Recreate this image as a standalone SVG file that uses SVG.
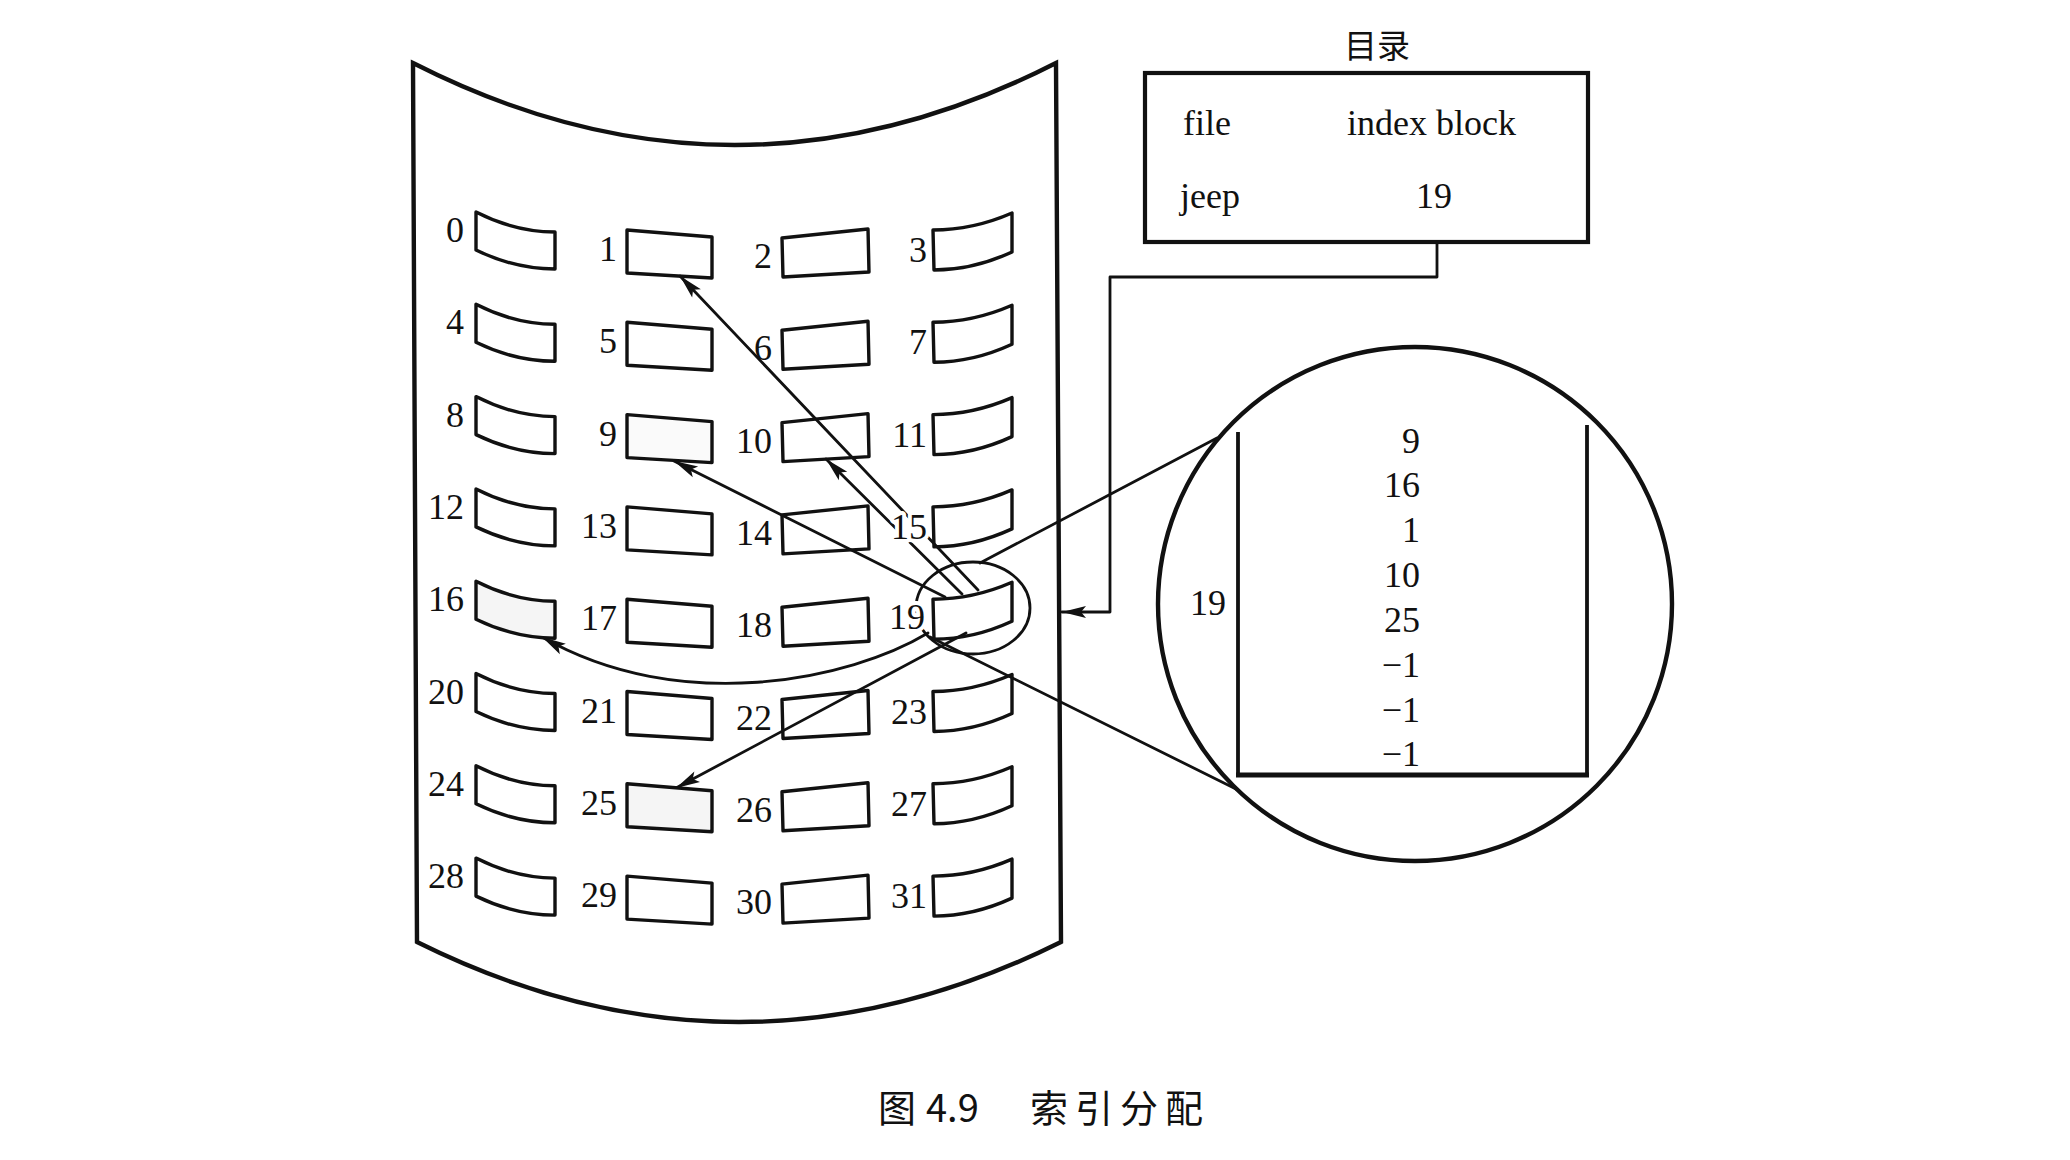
<svg xmlns="http://www.w3.org/2000/svg" xmlns:xlink="http://www.w3.org/1999/xlink" width="2070" height="1160" viewBox="0 0 2070 1160">
<style>
.ln{fill:none;stroke:#111;stroke-width:2.8;stroke-linecap:round;stroke-linejoin:round}
.blk{fill:none;stroke:#111;stroke-width:3.4;stroke-linejoin:round}
.sh{fill:#f5f5f5}
.sh2{fill:#fafafa}
.lbl{font-family:"Liberation Serif","Times New Roman",serif;font-size:36px;fill:#111}
.num{text-anchor:end}
.halo{stroke:#fff;stroke-width:8;paint-order:stroke;stroke-linejoin:round}
.cjk{font-family:"Noto Sans CJK SC","Noto Sans",sans-serif;fill:#111}
</style>
<defs>
<marker id="ah" viewBox="-26 -10 30 20" refX="0" refY="0" markerWidth="30" markerHeight="20" orient="auto" markerUnits="userSpaceOnUse">
<path d="M0,0 L-24,-6 L-19,0 L-24,6 Z" fill="#111"/>
</marker>
<path id="c0" d="M476,212 Q515,232 555,232 L555,269 Q515,269 476,250 Z"/>
<path id="c1" d="M627,230 L712,237 L712,278 L627,273 Z"/>
<path id="c2" d="M782,238 L868,229 L869,272 L783,277 Z"/>
<path id="c3" d="M933,230 Q973,230 1012,213 L1012,252 Q973,270 934,270 Z"/>
</defs>
<rect width="2070" height="1160" fill="#fff"/>

<g id="disk">
<path d="M413,63 Q735,227 1056,63 L1061,942 Q739,1102 417,942 Z" fill="none" stroke="#111" stroke-width="4.4" stroke-linejoin="miter"/>
</g>

<g id="index-block-view">
<ellipse cx="973" cy="608" rx="57" ry="46" class="ln"/>
<line x1="980" y1="563" x2="1217" y2="438" class="ln"/>
<line x1="930" y1="637" x2="1238" y2="790" class="ln"/>
<circle cx="1415" cy="604" r="257" fill="none" stroke="#111" stroke-width="4.4"/>
<path d="M1238,432 L1238,775 M1587,425 L1587,775" fill="none" stroke="#111" stroke-width="3.8"/>
<line x1="1236" y1="775" x2="1589" y2="775" stroke="#111" stroke-width="5.2"/>
<text class="lbl" x="1208" y="615" text-anchor="middle">19</text>
<g class="lbl num">
<text x="1420" y="453">9</text>
<text x="1420" y="497">16</text>
<text x="1420" y="542">1</text>
<text x="1420" y="587">10</text>
<text x="1420" y="632">25</text>
<text x="1420" y="677">−1</text>
<text x="1420" y="722">−1</text>
<text x="1420" y="766">−1</text>
</g>
</g>

<g id="connectors">
<line x1="978" y1="590" x2="680" y2="276" class="ln" marker-end="url(#ah)"/>
<line x1="962" y1="594" x2="826" y2="459" class="ln" marker-end="url(#ah)"/>
<line x1="945" y1="597" x2="674" y2="461" class="ln" marker-end="url(#ah)"/>
<path d="M928,633 C850,680 680,716 542,637" class="ln" marker-end="url(#ah)"/>
<line x1="966" y1="633" x2="676" y2="788" class="ln" marker-end="url(#ah)"/>
<polyline points="1437,242 1437,277 1110,277 1110,612 1062,612" class="ln" marker-end="url(#ah)"/>
</g>

<g id="blocks">
<g id="b0"><use xlink:href="#c0" class="blk"/><text class="lbl num" x="464" y="242">0</text></g>
<g id="b1"><use xlink:href="#c1" class="blk"/><text class="lbl num" x="617" y="261">1</text></g>
<g id="b2"><use xlink:href="#c2" class="blk"/><text class="lbl num" x="772" y="268">2</text></g>
<g id="b3"><use xlink:href="#c3" class="blk"/><text class="lbl num" x="927" y="262">3</text></g>

<g id="b4" transform="translate(0,92.3)"><use xlink:href="#c0" class="blk"/><text class="lbl num" x="464" y="242">4</text></g>
<g id="b5" transform="translate(0,92.3)"><use xlink:href="#c1" class="blk"/><text class="lbl num" x="617" y="261">5</text></g>
<g id="b6" transform="translate(0,92.3)"><use xlink:href="#c2" class="blk"/><text class="lbl num" x="772" y="268">6</text></g>
<g id="b7" transform="translate(0,92.3)"><use xlink:href="#c3" class="blk"/><text class="lbl num" x="927" y="262">7</text></g>

<g id="b8" transform="translate(0,184.6)"><use xlink:href="#c0" class="blk"/><text class="lbl num" x="464" y="242">8</text></g>
<g id="b9" transform="translate(0,184.6)"><use xlink:href="#c1" class="blk sh2"/><text class="lbl num" x="617" y="261">9</text></g>
<g id="b10" transform="translate(0,184.6)"><use xlink:href="#c2" class="blk"/><text class="lbl num" x="772" y="268">10</text></g>
<g id="b11" transform="translate(0,184.6)"><use xlink:href="#c3" class="blk"/><text class="lbl num" x="927" y="262">11</text></g>

<g id="b12" transform="translate(0,276.9)"><use xlink:href="#c0" class="blk"/><text class="lbl num" x="464" y="242">12</text></g>
<g id="b13" transform="translate(0,276.9)"><use xlink:href="#c1" class="blk"/><text class="lbl num" x="617" y="261">13</text></g>
<g id="b14" transform="translate(0,276.9)"><use xlink:href="#c2" class="blk"/><text class="lbl num" x="772" y="268">14</text></g>
<g id="b15" transform="translate(0,276.9)"><use xlink:href="#c3" class="blk"/><text class="lbl num halo" x="927" y="262">15</text></g>

<g id="b16" transform="translate(0,369.2)"><use xlink:href="#c0" class="blk sh"/><text class="lbl num" x="464" y="242">16</text></g>
<g id="b17" transform="translate(0,369.2)"><use xlink:href="#c1" class="blk"/><text class="lbl num" x="617" y="261">17</text></g>
<g id="b18" transform="translate(0,369.2)"><use xlink:href="#c2" class="blk"/><text class="lbl num" x="772" y="268">18</text></g>
<g id="b19" transform="translate(0,369.2)"><use xlink:href="#c3" class="blk"/><text class="lbl num halo" x="925" y="260">19</text></g>

<g id="b20" transform="translate(0,461.5)"><use xlink:href="#c0" class="blk"/><text class="lbl num" x="464" y="242">20</text></g>
<g id="b21" transform="translate(0,461.5)"><use xlink:href="#c1" class="blk"/><text class="lbl num" x="617" y="261">21</text></g>
<g id="b22" transform="translate(0,461.5)"><use xlink:href="#c2" class="blk"/><text class="lbl num" x="772" y="268">22</text></g>
<g id="b23" transform="translate(0,461.5)"><use xlink:href="#c3" class="blk"/><text class="lbl num" x="927" y="262">23</text></g>

<g id="b24" transform="translate(0,553.8)"><use xlink:href="#c0" class="blk"/><text class="lbl num" x="464" y="242">24</text></g>
<g id="b25" transform="translate(0,553.8)"><use xlink:href="#c1" class="blk sh"/><text class="lbl num" x="617" y="261">25</text></g>
<g id="b26" transform="translate(0,553.8)"><use xlink:href="#c2" class="blk"/><text class="lbl num" x="772" y="268">26</text></g>
<g id="b27" transform="translate(0,553.8)"><use xlink:href="#c3" class="blk"/><text class="lbl num" x="927" y="262">27</text></g>

<g id="b28" transform="translate(0,646.1)"><use xlink:href="#c0" class="blk"/><text class="lbl num" x="464" y="242">28</text></g>
<g id="b29" transform="translate(0,646.1)"><use xlink:href="#c1" class="blk"/><text class="lbl num" x="617" y="261">29</text></g>
<g id="b30" transform="translate(0,646.1)"><use xlink:href="#c2" class="blk"/><text class="lbl num" x="772" y="268">30</text></g>
<g id="b31" transform="translate(0,646.1)"><use xlink:href="#c3" class="blk"/><text class="lbl num" x="927" y="262">31</text></g>
</g>

<g id="directory">
<text class="cjk" x="1377" y="58" font-size="33" text-anchor="middle">目录</text>
<rect x="1145" y="73" width="443" height="169" fill="none" stroke="#111" stroke-width="4.2"/>
<text class="lbl" x="1183" y="135">file</text>
<text class="lbl" x="1347" y="135">index block</text>
<text class="lbl" x="1180" y="208">jeep</text>
<text class="lbl" x="1434" y="208" text-anchor="middle">19</text>
</g>

<g id="caption">
<text class="cjk" y="1122" font-size="38"><tspan x="878">图</tspan><tspan x="926">4.9</tspan><tspan x="1030" letter-spacing="7">索引分配</tspan></text>
</g>
</svg>
